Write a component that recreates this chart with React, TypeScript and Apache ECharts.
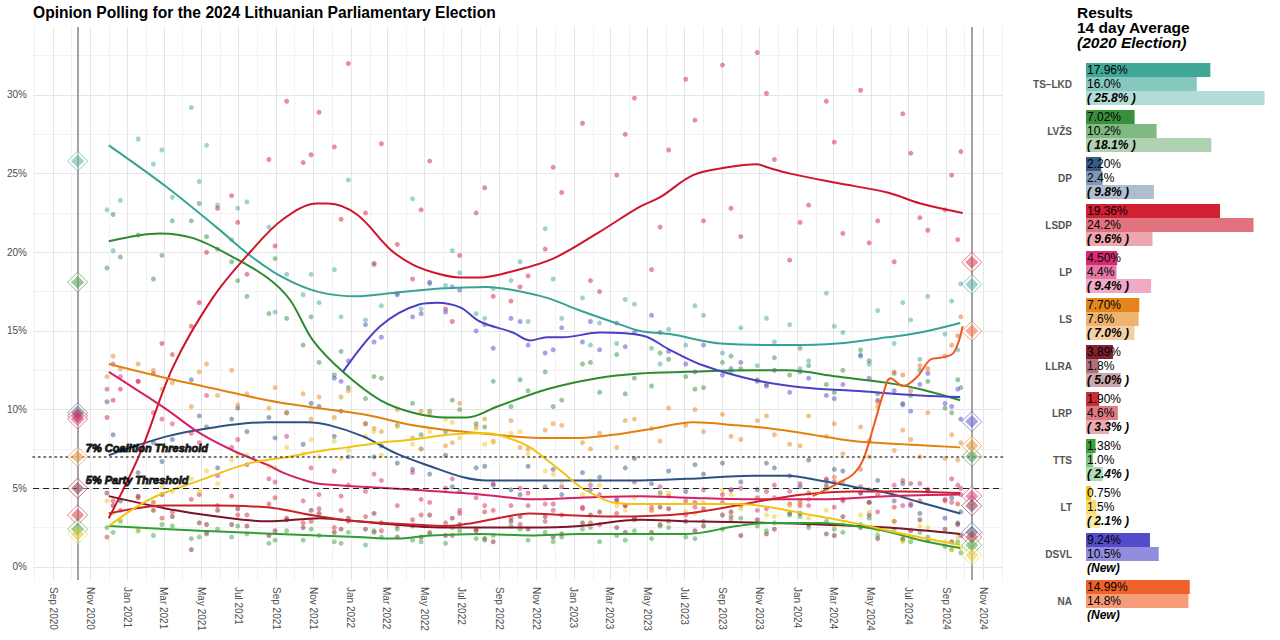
import React, { useEffect, useRef } from 'react';
import * as echarts from 'echarts';

const FONT = '"Liberation Sans", Arial, Helvetica, sans-serif';

// ---------- Parties ----------
const PARTIES = ['TS–LKD', 'LVŽS', 'DP', 'LSDP', 'LP', 'LS', 'LLRA', 'LRP', 'TTS', 'LT', 'DSVL', 'NA'];
const COLORS = ['#37a392', '#2d8a30', '#2b5283', '#d0142a', '#d4206a', '#e3800f', '#7a1426', '#c8232b', '#2f9e34', '#f1c40f', '#4a41c6', '#f05a1f'];

// ---------- Results panel ----------
const RESULT_2024 = [17.96, 7.02, 2.2, 19.36, 4.5, 7.7, 3.89, 1.9, 1.38, 0.75, 9.24, 14.99];
const AVG_14 = [16.0, 10.2, 2.4, 24.2, 4.4, 7.6, 1.8, 4.6, 1.0, 1.5, 10.5, 14.8];
const RESULT_2020: (number | null)[] = [25.8, 18.1, 9.8, 9.6, 9.4, 7.0, 5.0, 3.3, 2.4, 2.1, null, null];

const ELECTION_2020 = '2020-10-11';
const ELECTION_2024 = '2024-10-13';
const THRESHOLD_LABEL_DATE = '2020-10-17';

// ---------- Axis ----------
const X_TICKS = [
  '2020-09-01', '2020-11-01', '2021-01-01', '2021-03-01', '2021-05-01', '2021-07-01', '2021-09-01', '2021-11-01',
  '2022-01-01', '2022-03-01', '2022-05-01', '2022-07-01', '2022-09-01', '2022-11-01', '2023-01-01', '2023-03-01',
  '2023-05-01', '2023-07-01', '2023-09-01', '2023-11-01', '2024-01-01', '2024-03-01', '2024-05-01', '2024-07-01',
  '2024-09-01', '2024-11-01',
];
const Y_TICKS = [0, 5, 10, 15, 20, 25, 30];
const Y_GRID = [0, 2.5, 5, 7.5, 10, 12.5, 15, 17.5, 20, 22.5, 25, 27.5, 30, 32.5];
const MONTHS = ['Jan', 'Feb', 'Mar', 'Apr', 'May', 'Jun', 'Jul', 'Aug', 'Sep', 'Oct', 'Nov', 'Dec'];

// ---------- Polls (pollster group A) ----------
const POLL_DATES = [
  '2020-11-28', '2020-12-20', '2021-01-18', '2021-02-12', '2021-03-15', '2021-04-15', '2021-05-10', '2021-05-28',
  '2021-06-20', '2021-07-15', '2021-08-20', '2021-09-18', '2021-10-15', '2021-11-10', '2021-12-05', '2021-12-28',
  '2022-01-25', '2022-02-20', '2022-03-18', '2022-04-12', '2022-05-10', '2022-06-05', '2022-06-28', '2022-07-25',
  '2022-08-22', '2022-09-20', '2022-10-18', '2022-11-15', '2022-12-12', '2023-01-15', '2023-02-12', '2023-03-12',
  '2023-04-10', '2023-05-08', '2023-06-05', '2023-07-03', '2023-08-01', '2023-09-01', '2023-10-01', '2023-10-28',
  '2023-11-25', '2023-12-20', '2024-01-20', '2024-02-18', '2024-03-16', '2024-04-14', '2024-05-12', '2024-06-08',
  '2024-07-05', '2024-08-02', '2024-08-30', '2024-09-25',
];
const POLL_TSLKD = [22.7, 23.3, 27.2, 25.6, 23.5, 29.2, 26.8, 23.0, 20.8, 23.2, 21.6, 18.6, 17.3, 16.8, 18.9, 24.6, 15.7, 16.6, 17.4, 23.4, 18.0, 17.9, 18.7, 16.1, 17.7, 18.2, 15.6, 21.5, 15.8, 17.1, 15.5, 14.2, 16.7, 13.9, 15.1, 14.1, 16.0, 13.6, 15.2, 12.8, 14.3, 15.4, 13.1, 17.4, 14.9, 13.5, 16.3, 14.2, 15.7, 17.2, 14.8, 18.0];
const POLL_LVZS = [19.0, 19.7, 21.1, 18.3, 22.0, 22.0, 21.0, 20.2, 19.4, 17.2, 16.1, 15.8, 14.1, 13.0, 12.2, 11.4, 10.7, 12.0, 9.0, 10.4, 9.9, 8.6, 10.0, 9.1, 11.8, 10.2, 11.2, 12.4, 10.6, 12.9, 11.1, 13.5, 12.0, 11.5, 13.2, 12.1, 11.4, 13.0, 12.6, 11.9, 13.3, 12.2, 12.8, 11.6, 12.5, 13.8, 11.0, 12.3, 10.9, 11.8, 10.1, 11.4];
const POLL_DP = [10.5, 7.4, 6.0, 7.9, 8.1, 11.9, 8.9, 6.3, 9.4, 8.6, 9.5, 9.8, 7.8, 10.2, 8.3, 7.0, 9.1, 7.7, 6.6, 6.2, 5.9, 7.1, 4.8, 6.3, 5.2, 4.9, 6.4, 5.1, 4.6, 6.0, 5.7, 4.3, 6.9, 5.3, 6.1, 4.8, 5.9, 6.6, 5.4, 4.9, 6.3, 5.8, 6.8, 5.2, 6.1, 4.7, 5.5, 4.2, 3.9, 4.8, 3.1, 3.5];
const POLL_LSDP = [9.5, 11.3, 11.8, 12.3, 13.5, 15.3, 20.0, 22.8, 23.6, 18.6, 25.9, 29.6, 25.7, 28.9, 26.7, 32.0, 22.5, 26.9, 20.5, 18.3, 25.8, 16.4, 19.8, 22.5, 17.2, 16.9, 18.5, 20.2, 23.8, 28.2, 17.5, 24.9, 29.8, 18.9, 26.5, 31.0, 22.0, 31.9, 21.0, 32.7, 25.9, 19.5, 23.0, 29.6, 21.2, 30.3, 22.0, 19.4, 26.3, 21.4, 22.7, 26.4];
const POLL_LP = [11.3, 12.1, 11.8, 9.8, 9.1, 8.5, 10.9, 5.8, 7.6, 6.5, 5.6, 8.3, 4.2, 4.6, 6.1, 5.2, 4.8, 5.5, 3.9, 6.0, 4.1, 5.0, 3.6, 4.4, 5.3, 3.9, 4.7, 4.0, 5.1, 3.7, 4.6, 4.2, 5.4, 3.8, 4.5, 3.3, 4.9, 4.1, 5.0, 3.6, 4.4, 4.8, 3.9, 5.6, 4.2, 4.7, 3.5, 5.2, 4.0, 4.9, 4.3, 4.6];
const POLL_LS = [12.1, 12.6, 12.9, 12.5, 11.7, 10.2, 12.9, 10.9, 12.5, 11.0, 10.1, 9.8, 11.0, 10.8, 9.5, 11.2, 9.1, 8.6, 10.0, 8.2, 9.7, 7.7, 10.4, 8.9, 8.0, 9.3, 7.5, 8.7, 9.0, 7.9, 8.5, 7.6, 9.4, 8.8, 10.1, 9.0, 8.6, 9.7, 8.1, 9.3, 8.4, 7.8, 9.6, 8.3, 7.2, 8.9, 10.2, 7.4, 8.1, 9.8, 6.9, 7.9];
const POLL_LLRA = [4.7, 4.2, 4.5, 3.6, 3.2, 1.1, 2.7, 3.6, 2.7, 2.6, 2.0, 3.0, 2.5, 3.4, 2.2, 3.1, 2.4, 2.8, 1.9, 2.6, 3.3, 2.0, 2.7, 2.3, 1.6, 2.9, 2.4, 3.2, 2.1, 2.8, 3.5, 2.5, 3.1, 2.2, 3.7, 2.9, 2.6, 3.3, 2.0, 3.0, 2.4, 3.4, 2.7, 2.1, 3.2, 2.5, 1.8, 2.9, 2.3, 1.7, 2.4, 2.0];
const POLL_LRP = [1.9, 3.6, 4.4, 4.1, 3.5, 4.3, 2.1, 3.9, 4.5, 3.3, 4.0, 3.1, 2.8, 3.7, 2.5, 2.9, 3.2, 2.3, 2.6, 3.0, 2.2, 2.8, 3.4, 2.4, 3.6, 3.1, 3.9, 2.9, 3.3, 3.8, 2.7, 3.4, 3.0, 3.6, 2.9, 4.2, 3.7, 4.6, 3.9, 4.4, 5.2, 4.0, 4.7, 5.5, 4.3, 5.1, 4.6, 3.8, 5.3, 4.9, 4.2, 5.0];
const POLL_TTS = [2.5, 2.9, 2.3, 2.0, 2.6, 1.8, 2.2, 2.4, 1.9, 2.1, 1.5, 2.3, 1.7, 2.0, 1.6, 2.2, 1.4, 1.9, 2.4, 1.7, 2.1, 1.5, 2.3, 1.8, 2.0, 2.6, 1.7, 2.2, 1.9, 2.4, 1.6, 2.0, 2.3, 1.8, 2.5, 1.9, 2.9, 2.4, 3.1, 2.6, 2.8, 3.3, 2.5, 2.9, 2.2, 2.7, 2.0, 2.4, 1.6, 1.9, 1.3, 0.9];
const POLL_LT = [4.2, 3.0, 2.4, 3.9, 4.8, 5.6, 6.1, 5.3, 6.8, 7.1, 6.4, 7.6, 7.2, 7.0, 8.0, 7.4, 8.3, 7.1, 8.9, 7.8, 8.6, 9.4, 8.2, 8.8, 7.9, 8.5, 7.2, 6.1, 5.4, 4.6, 5.2, 3.9, 4.4, 3.6, 4.7, 3.5, 4.1, 4.9, 3.7, 4.3, 3.2, 3.9, 3.1, 3.6, 2.7, 3.3, 2.3, 2.9, 1.8, 2.5, 1.6, 1.2];
const POLL_DSVL: (number | null)[] = [null, null, null, null, null, null, null, null, null, null, null, null, null, null, 12.0, 13.1, 15.4, 14.6, 17.3, 15.9, 18.1, 16.2, 17.6, 15.0, 13.9, 15.8, 14.1, 13.6, 15.2, 14.3, 13.8, 15.5, 14.9, 16.0, 13.7, 12.9, 14.1, 12.2, 13.0, 11.8, 12.5, 11.1, 12.0, 10.9, 11.6, 13.4, 10.6, 11.2, 9.9, 12.3, 10.4, 9.4];
const POLL_NA: (number | null)[] = [null, null, null, null, null, null, null, null, null, null, null, null, null, null, null, null, null, null, null, null, null, null, null, null, null, null, null, null, null, null, null, null, null, null, null, null, null, null, null, null, null, null, 4.3, 5.0, 5.4, 6.2, 10.5, 12.4, 11.2, 12.6, 13.4, 15.9];

// ---------- Polls (pollster group B) ----------
const POLL_DATES_B = [
  '2020-12-08', '2021-02-26', '2021-04-28', '2021-06-30', '2021-08-30', '2021-10-28', '2021-12-16', '2022-02-08',
  '2022-04-26', '2022-06-16', '2022-08-08', '2022-10-05', '2022-11-28', '2023-01-28', '2023-03-26', '2023-05-22',
  '2023-07-18', '2023-09-15', '2023-11-12', '2024-01-06', '2024-03-02', '2024-04-28', '2024-06-22', '2024-07-20',
  '2024-09-10', '2024-09-20',
];
const POLL_B_TSLKD = [20.1, 26.5, 24.5, 22.8, 16.2, 18.6, 15.9, 19.2, 16.4, 20.1, 15.8, 19.4, 18.3, 14.1, 17.0, 12.9, 16.6, 12.4, 15.8, 12.6, 15.3, 12.9, 16.8, 13.2, 16.9, 13.8];
const POLL_B_LVZS = [22.4, 19.8, 23.1, 18.2, 19.6, 15.9, 13.7, 12.1, 8.4, 10.6, 8.9, 11.9, 10.2, 13.0, 11.0, 13.6, 11.3, 13.4, 11.6, 13.9, 11.1, 13.1, 10.4, 12.5, 9.8, 11.9];
const POLL_B_DP = [8.4, 6.7, 9.6, 10.1, 8.2, 10.4, 9.9, 7.0, 7.5, 5.1, 6.4, 4.6, 6.2, 4.9, 6.3, 4.7, 6.5, 4.9, 6.6, 5.1, 6.2, 4.1, 5.3, 3.4, 4.4, 2.8];
const POLL_B_LSDP = [10.6, 14.2, 16.8, 21.9, 20.4, 26.2, 22.1, 19.3, 22.7, 15.6, 24.1, 17.8, 25.4, 18.2, 27.5, 21.6, 28.4, 22.8, 30.1, 21.9, 27.0, 20.6, 28.8, 22.2, 24.9, 20.8];
const POLL_B_LP = [12.9, 9.4, 7.9, 8.1, 5.4, 6.3, 4.5, 5.9, 4.3, 5.6, 3.9, 5.0, 3.6, 5.2, 3.9, 5.1, 3.8, 4.9, 3.7, 5.3, 3.8, 4.9, 3.9, 5.3, 4.1, 5.2];
const POLL_B_LS = [13.4, 11.3, 12.4, 10.3, 11.4, 9.4, 10.8, 8.8, 9.9, 7.9, 9.4, 7.6, 9.1, 7.5, 9.3, 8.0, 10.0, 8.3, 9.6, 7.7, 9.1, 7.0, 8.7, 7.0, 8.4, 6.8];
const POLL_B_LLRA = [3.9, 4.6, 2.8, 3.7, 2.3, 3.6, 2.4, 3.4, 1.9, 3.1, 1.8, 3.2, 1.9, 3.3, 2.2, 3.8, 2.3, 3.5, 2.1, 3.4, 2.0, 3.3, 1.8, 3.0, 1.6, 2.7];
const POLL_B_LRP = [4.2, 3.1, 4.6, 3.3, 4.4, 2.9, 3.6, 2.2, 3.3, 2.0, 3.5, 2.7, 4.0, 2.8, 3.9, 2.7, 4.1, 3.2, 4.8, 3.9, 5.4, 4.1, 5.5, 4.2, 5.6, 4.0];
const POLL_B_TTS = [2.2, 2.7, 1.9, 2.6, 1.7, 2.4, 1.5, 2.3, 1.6, 2.5, 1.7, 2.4, 1.6, 2.5, 1.7, 2.6, 1.8, 3.0, 2.3, 3.2, 2.4, 3.1, 1.7, 2.2, 1.1, 1.6];
const POLL_B_LT = [3.4, 5.1, 4.8, 7.2, 6.3, 8.1, 6.9, 8.6, 7.5, 9.2, 7.8, 8.6, 5.9, 5.5, 3.6, 4.6, 3.4, 4.6, 3.3, 4.2, 2.6, 3.5, 1.6, 2.6, 1.1, 1.9];
const POLL_B_DSVL: (number | null)[] = [null, null, null, null, null, null, 11.8, 14.3, 16.1, 17.8, 15.4, 15.6, 13.8, 15.6, 14.0, 14.9, 12.4, 12.6, 11.5, 12.4, 10.7, 12.0, 10.3, 11.6, 10.2, 11.3];
const POLL_B_NA: (number | null)[] = [null, null, null, null, null, null, null, null, null, null, null, null, null, null, null, null, null, null, null, 4.1, 5.7, 8.0, 12.2, 12.8, 14.1, 14.7];

// ---------- Smoothed trends ----------
const TREND_TSLKD: [string, number][] = [['2020-12-01', 26.8], ['2021-03-04', 24.2], ['2021-05-26', 21.6], ['2021-07-20', 19.8], ['2021-09-12', 18.4], ['2021-11-07', 17.5], ['2022-01-11', 17.2], ['2022-03-06', 17.4], ['2022-05-27', 17.7], ['2022-08-12', 17.8], ['2022-09-23', 17.6], ['2022-11-18', 17.1], ['2023-01-11', 16.3], ['2023-03-18', 15.4], ['2023-04-19', 15.0], ['2023-06-07', 14.8], ['2023-08-29', 14.2], ['2023-12-16', 14.1], ['2024-03-07', 14.2], ['2024-05-28', 14.6], ['2024-07-21', 14.9], ['2024-09-24', 15.5]];
const TREND_LVZS: [string, number][] = [['2020-12-01', 20.7], ['2021-02-23', 21.2], ['2021-04-18', 20.9], ['2021-06-22', 19.7], ['2021-08-17', 18.4], ['2021-09-23', 17.0], ['2021-10-31', 14.4], ['2021-12-19', 12.4], ['2022-02-18', 10.6], ['2022-04-13', 9.8], ['2022-06-07', 9.5], ['2022-07-10', 9.5], ['2022-08-29', 10.2], ['2022-11-18', 11.3], ['2023-02-08', 12.0], ['2023-04-19', 12.3], ['2023-07-05', 12.4], ['2023-10-21', 12.5], ['2023-12-16', 12.5], ['2024-03-07', 12.1], ['2024-05-28', 11.7], ['2024-07-21', 11.3], ['2024-09-24', 10.6]];
const TREND_DP: [string, number][] = [['2020-12-01', 7.1], ['2021-03-06', 8.3], ['2021-05-27', 8.9], ['2021-08-17', 9.2], ['2021-10-21', 9.2], ['2021-11-28', 9.0], ['2022-01-21', 8.3], ['2022-03-17', 7.2], ['2022-05-11', 6.4], ['2022-07-04', 5.7], ['2022-08-12', 5.5], ['2022-11-18', 5.5], ['2023-01-11', 5.5], ['2023-04-19', 5.5], ['2023-07-05', 5.6], ['2023-10-21', 5.8], ['2023-12-16', 5.8], ['2024-02-07', 5.5], ['2024-04-02', 5.1], ['2024-05-28', 4.7], ['2024-07-21', 4.1], ['2024-09-24', 3.4]];
const TREND_LSDP: [string, number][] = [['2020-12-01', 3.1], ['2021-01-21', 7.2], ['2021-03-16', 12.7], ['2021-05-20', 17.1], ['2021-07-20', 20.0], ['2021-09-12', 22.1], ['2021-11-07', 23.1], ['2021-11-25', 23.1], ['2022-01-11', 22.4], ['2022-03-06', 20.2], ['2022-04-13', 19.2], ['2022-05-27', 18.6], ['2022-06-29', 18.4], ['2022-07-31', 18.4], ['2022-09-23', 18.8], ['2022-11-28', 19.6], ['2023-02-08', 21.2], ['2023-04-19', 22.9], ['2023-05-22', 23.5], ['2023-07-15', 24.9], ['2023-09-09', 25.4], ['2023-10-28', 25.6], ['2023-11-13', 25.4], ['2023-12-21', 25.0], ['2024-03-07', 24.4], ['2024-05-28', 23.8], ['2024-07-21', 23.1], ['2024-09-28', 22.5]];
const TREND_LP: [string, number][] = [['2020-12-01', 12.4], ['2021-01-10', 11.4], ['2021-03-06', 10.0], ['2021-04-29', 8.5], ['2021-06-22', 7.4], ['2021-08-17', 6.5], ['2021-09-12', 6.0], ['2021-10-10', 5.6], ['2021-11-07', 5.3], ['2022-01-21', 5.1], ['2022-04-13', 4.9], ['2022-07-04', 4.7], ['2022-08-29', 4.5], ['2022-10-21', 4.3], ['2023-01-11', 4.4], ['2023-04-19', 4.5], ['2023-07-05', 4.4], ['2023-10-21', 4.3], ['2024-02-07', 4.3], ['2024-05-28', 4.5], ['2024-09-24', 4.6]];
const TREND_LS: [string, number][] = [['2020-12-01', 12.9], ['2021-03-06', 12.0], ['2021-05-27', 11.3], ['2021-08-17', 10.6], ['2021-11-07', 10.1], ['2022-01-21', 9.7], ['2022-04-13', 9.0], ['2022-06-07', 8.7], ['2022-07-31', 8.5], ['2022-09-23', 8.3], ['2022-11-18', 8.2], ['2023-01-11', 8.2], ['2023-03-06', 8.4], ['2023-05-11', 8.8], ['2023-07-15', 9.2], ['2023-09-25', 9.0], ['2023-11-18', 8.8], ['2024-01-11', 8.5], ['2024-04-02', 8.0], ['2024-06-23', 7.8], ['2024-09-24', 7.6]];
const TREND_LLRA: [string, number][] = [['2020-12-01', 4.5], ['2021-03-06', 3.7], ['2021-05-27', 3.2], ['2021-08-17', 2.9], ['2021-11-12', 3.1], ['2022-01-11', 2.9], ['2022-04-13', 2.6], ['2022-06-07', 2.5], ['2022-07-31', 2.5], ['2022-10-21', 2.5], ['2023-01-11', 2.6], ['2023-04-19', 3.0], ['2023-07-05', 2.9], ['2023-11-18', 2.8], ['2024-02-07', 2.7], ['2024-05-28', 2.5], ['2024-09-24', 2.1]];
const TREND_LRP: [string, number][] = [['2020-12-01', 3.4], ['2021-03-06', 3.9], ['2021-05-27', 3.9], ['2021-08-17', 3.8], ['2021-09-05', 3.7], ['2021-11-12', 3.2], ['2022-01-11', 2.9], ['2022-04-13', 2.7], ['2022-06-07', 2.6], ['2022-07-20', 2.8], ['2022-08-29', 3.1], ['2022-10-21', 3.4], ['2022-12-14', 3.3], ['2023-03-06', 3.2], ['2023-07-05', 3.4], ['2023-10-21', 4.1], ['2024-01-11', 4.6], ['2024-04-02', 4.8], ['2024-06-23', 4.8], ['2024-09-24', 4.7]];
const TREND_TTS: [string, number][] = [['2020-12-01', 2.6], ['2021-04-29', 2.3], ['2021-11-07', 2.0], ['2022-01-11', 1.9], ['2022-03-17', 1.8], ['2022-05-11', 2.0], ['2022-07-31', 2.1], ['2022-10-21', 2.0], ['2023-01-11', 2.1], ['2023-07-05', 2.1], ['2023-09-25', 2.6], ['2023-11-18', 2.8], ['2024-02-07', 2.8], ['2024-05-10', 2.4], ['2024-07-21', 1.7], ['2024-09-24', 1.2]];
const TREND_LT: [string, number][] = [['2020-12-01', 2.6], ['2021-02-06', 4.3], ['2021-04-29', 5.5], ['2021-07-20', 6.6], ['2021-09-23', 7.0], ['2021-10-31', 7.3], ['2021-12-26', 7.6], ['2022-02-18', 7.9], ['2022-04-13', 8.1], ['2022-06-07', 8.4], ['2022-07-20', 8.5], ['2022-08-12', 8.5], ['2022-09-23', 8.1], ['2022-10-21', 7.6], ['2022-11-18', 6.8], ['2022-12-14', 6.0], ['2023-01-11', 5.1], ['2023-02-08', 4.5], ['2023-03-06', 4.1], ['2023-04-19', 4.0], ['2023-07-05', 4.0], ['2023-09-25', 4.0], ['2023-11-18', 3.8], ['2024-01-11', 3.4], ['2024-04-02', 2.8], ['2024-06-23', 2.1], ['2024-09-24', 1.4]];
const TREND_DSVL: [string, number][] = [['2021-12-19', 12.4], ['2022-02-18', 15.3], ['2022-04-24', 16.7], ['2022-05-22', 16.8], ['2022-06-29', 16.5], ['2022-07-31', 15.6], ['2022-09-23', 14.9], ['2022-10-21', 14.4], ['2022-11-18', 14.6], ['2022-12-14', 14.6], ['2023-02-13', 14.9], ['2023-04-24', 14.7], ['2023-06-07', 13.8], ['2023-08-01', 12.8], ['2023-10-21', 11.9], ['2024-01-11', 11.4], ['2024-04-02', 11.2], ['2024-07-21', 10.9], ['2024-09-24', 10.8]];
const TREND_NA: [string, number][] = [['2024-01-27', 4.5], ['2024-03-07', 5.3], ['2024-04-02', 5.9], ['2024-04-18', 6.8], ['2024-05-05', 8.9], ['2024-05-21', 11.0], ['2024-06-02', 12.0], ['2024-06-23', 11.5], ['2024-07-16', 12.1], ['2024-08-07', 13.2], ['2024-08-23', 13.3], ['2024-09-13', 13.6], ['2024-09-28', 15.3]];

const PARTY_POLLS = [POLL_TSLKD, POLL_LVZS, POLL_DP, POLL_LSDP, POLL_LP, POLL_LS, POLL_LLRA, POLL_LRP, POLL_TTS, POLL_LT, POLL_DSVL, POLL_NA];
const PARTY_POLLS_B = [POLL_B_TSLKD, POLL_B_LVZS, POLL_B_DP, POLL_B_LSDP, POLL_B_LP, POLL_B_LS, POLL_B_LLRA, POLL_B_LRP, POLL_B_TTS, POLL_B_LT, POLL_B_DSVL, POLL_B_NA];
const PARTY_TRENDS = [TREND_TSLKD, TREND_LVZS, TREND_DP, TREND_LSDP, TREND_LP, TREND_LS, TREND_LLRA, TREND_LRP, TREND_TTS, TREND_LT, TREND_DSVL, TREND_NA];

function ts(s: string): number {
  const [y, m, d] = s.split('-').map(Number);
  return Date.UTC(y, m - 1, d);
}

function rgba(hex: string, a: number): string {
  const n = parseInt(hex.slice(1), 16);
  return `rgba(${(n >> 16) & 255},${(n >> 8) & 255},${n & 255},${a})`;
}

function gridMonths(): number[] {
  const out: number[] = [];
  for (let y = 2020; y <= 2024; y++) {
    for (let m = 0; m < 12; m++) {
      if (y === 2020 && m < 7) continue;
      out.push(Date.UTC(y, m, 1));
    }
  }
  return out;
}

function buildOption(): any {
  const series: any[] = [];

  PARTIES.forEach((p, i) => {
    const data: any[] = [];
    POLL_DATES.forEach((d, j) => {
      const v = PARTY_POLLS[i][j];
      if (v != null) data.push([ts(d), v]);
    });
    POLL_DATES_B.forEach((d, j) => {
      const v = PARTY_POLLS_B[i][j];
      if (v != null) data.push([ts(d), v]);
    });
    series.push({
      type: 'scatter', name: p + ' polls', xAxisIndex: 0, yAxisIndex: 0, data, symbolSize: 5,
      itemStyle: { color: rgba(COLORS[i], 0.6) }, z: 2, silent: true,
    });
  });

  PARTIES.forEach((p, i) => {
    series.push({
      type: 'line', name: p + ' trend', xAxisIndex: 0, yAxisIndex: 0,
      data: PARTY_TRENDS[i].map(([d, v]) => [ts(d), v]),
      smooth: 0.35, showSymbol: false, symbol: 'none',
      lineStyle: { color: COLORS[i], width: 2 }, z: 3, silent: true,
    });
  });

  series.push({
    type: 'scatter', name: 'thresholds', xAxisIndex: 0, yAxisIndex: 0, symbolSize: 1, silent: true, z: 6,
    itemStyle: { color: 'rgba(0,0,0,0)' },
    data: [
      { value: [ts(THRESHOLD_LABEL_DATE), 7], label: { formatter: '7% Coalition Threshold', offset: [0, -8.5] } },
      { value: [ts(THRESHOLD_LABEL_DATE), 5], label: { formatter: '5% Party Threshold', offset: [0, -8] } },
    ],
    label: {
      show: true, position: 'right', distance: 4, fontSize: 11, fontWeight: 'bold', fontStyle: 'italic',
      color: '#000', fontFamily: FONT, textBorderColor: '#000', textBorderWidth: 1,
    },
    markLine: {
      silent: true, symbol: 'none', label: { show: false }, animation: false,
      data: [
        { yAxis: 7, lineStyle: { type: [1.5, 4], color: '#444', width: 1.5, cap: 'round' } },
        { yAxis: 5, lineStyle: { type: [6, 4], color: '#222', width: 1 } },
        { xAxis: ts(ELECTION_2020), lineStyle: { type: 'solid', color: '#a3a3a3', width: 2 } },
        { xAxis: ts(ELECTION_2024), lineStyle: { type: 'solid', color: '#a3a3a3', width: 2 } },
      ],
    },
  });

  const diamondsOuter: any[] = [];
  const diamondsInner: any[] = [];
  PARTIES.forEach((p, i) => {
    const r20 = RESULT_2020[i];
    if (r20 != null) {
      diamondsOuter.push({ value: [ts(ELECTION_2020), r20], itemStyle: { borderColor: rgba(COLORS[i], 0.7) } });
      diamondsInner.push({ value: [ts(ELECTION_2020), r20], itemStyle: { color: rgba(COLORS[i], 0.6) } });
    }
    diamondsOuter.push({ value: [ts(ELECTION_2024), RESULT_2024[i]], itemStyle: { borderColor: rgba(COLORS[i], 0.7) } });
    diamondsInner.push({ value: [ts(ELECTION_2024), RESULT_2024[i]], itemStyle: { color: rgba(COLORS[i], 0.6) } });
  });
  series.push({
    type: 'scatter', name: 'results outer', xAxisIndex: 0, yAxisIndex: 0, symbol: 'diamond', symbolSize: 20,
    data: diamondsOuter, itemStyle: { color: 'rgba(255,255,255,0.45)', borderWidth: 1 }, z: 7, silent: true,
  });
  series.push({
    type: 'scatter', name: 'results inner', xAxisIndex: 0, yAxisIndex: 0, symbol: 'diamond', symbolSize: 13,
    data: diamondsInner, z: 8, silent: true,
  });

  const barBase = {
    type: 'bar', xAxisIndex: 1, yAxisIndex: 1, barGap: '0%', barCategoryGap: '10.6%', silent: true,
  };
  const labelBase = { show: true, position: 'insideLeft', distance: 1, fontSize: 12, color: '#000', fontFamily: FONT };
  series.push({
    ...barBase, name: 'Result',
    data: RESULT_2024.map((v, i) => ({ value: v, itemStyle: { color: rgba(COLORS[i], 0.95) } })),
    label: { ...labelBase, formatter: (p: any) => RESULT_2024[p.dataIndex].toFixed(2) + '%' },
  });
  series.push({
    ...barBase, name: '14 day Average',
    data: AVG_14.map((v, i) => ({ value: v, itemStyle: { color: rgba(COLORS[i], 0.6) } })),
    label: { ...labelBase, formatter: (p: any) => AVG_14[p.dataIndex].toFixed(1) + '%' },
  });
  series.push({
    ...barBase, name: '2020 Election',
    data: RESULT_2020.map((v, i) => ({ value: v == null ? 0 : v, itemStyle: { color: rgba(COLORS[i], 0.38) } })),
    label: {
      ...labelBase, fontWeight: 'bold', fontStyle: 'italic',
      formatter: (p: any) => {
        const v = RESULT_2020[p.dataIndex];
        return v == null ? '(New)' : '( ' + v.toFixed(1) + '% )';
      },
    },
  });

  return {
    animation: false,
    backgroundColor: '#ffffff',
    textStyle: { fontFamily: FONT },
    title: [
      {
        text: 'Opinion Polling for the 2024 Lithuanian Parliamentary Election', left: 33, top: 4, padding: 0,
        textStyle: { fontSize: 15.6, fontWeight: 'bold', color: '#000', fontFamily: FONT },
      },
      {
        text: '{a|Results}\n{a|14 day Average}\n{b|(2020 Election)}', left: 1077, top: 4.5, padding: 0,
        textStyle: {
          fontFamily: FONT,
          rich: {
            a: { fontSize: 15.5, fontWeight: 'bold', color: '#000', lineHeight: 15, fontFamily: FONT },
            b: { fontSize: 15.5, fontWeight: 'bold', fontStyle: 'italic', color: '#000', lineHeight: 15, fontFamily: FONT },
          },
        },
      },
    ],
    grid: [
      { left: 33, right: 277, top: 27, bottom: 60 },
      { left: 1086, right: 14, top: 60.5, bottom: 15.5 },
    ],
    xAxis: [
      {
        type: 'value', gridIndex: 0, min: ts('2020-07-30'), max: ts('2024-12-03'),
        axisLine: { show: false },
        axisTick: { show: false, customValues: gridMonths() },
        axisLabel: {
          customValues: X_TICKS.map(ts), rotate: -90, fontSize: 10, color: '#4d4d4d', margin: 7, fontFamily: FONT,
          formatter: (v: number) => { const d = new Date(v); return MONTHS[d.getUTCMonth()] + ' ' + d.getUTCFullYear(); },
        },
        splitLine: { show: true, lineStyle: { color: ['#f2f2f2', '#e5e5e5'], width: 1 } },
      },
      { type: 'value', gridIndex: 1, min: 0, max: 26, show: false },
    ],
    yAxis: [
      {
        type: 'value', gridIndex: 0, min: -0.83, max: 34.32,
        axisLine: { show: false },
        axisTick: { show: false, customValues: Y_GRID },
        axisLabel: { customValues: Y_TICKS, formatter: '{value}%', fontSize: 10, color: '#4d4d4d', margin: 6, fontFamily: FONT },
        splitLine: { show: true, lineStyle: { color: ['#e5e5e5', '#f2f2f2'], width: 1 } },
      },
      {
        type: 'category', gridIndex: 1, data: PARTIES, inverse: true,
        axisLine: { show: false }, axisTick: { show: false }, splitLine: { show: false },
        axisLabel: { fontWeight: 'bold', color: '#555', fontSize: 10, margin: 14, fontFamily: FONT },
      },
    ],
    series,
  };
}

export default function App() {
  const ref = useRef<HTMLDivElement>(null);
  useEffect(() => {
    document.body.style.margin = '0';
    if (!ref.current) return;
    const chart = echarts.init(ref.current, undefined, { renderer: 'svg' });
    chart.setOption(buildOption());
    return () => chart.dispose();
  }, []);
  return <div ref={ref} style={{ width: 1280, height: 640 }} />;
}
